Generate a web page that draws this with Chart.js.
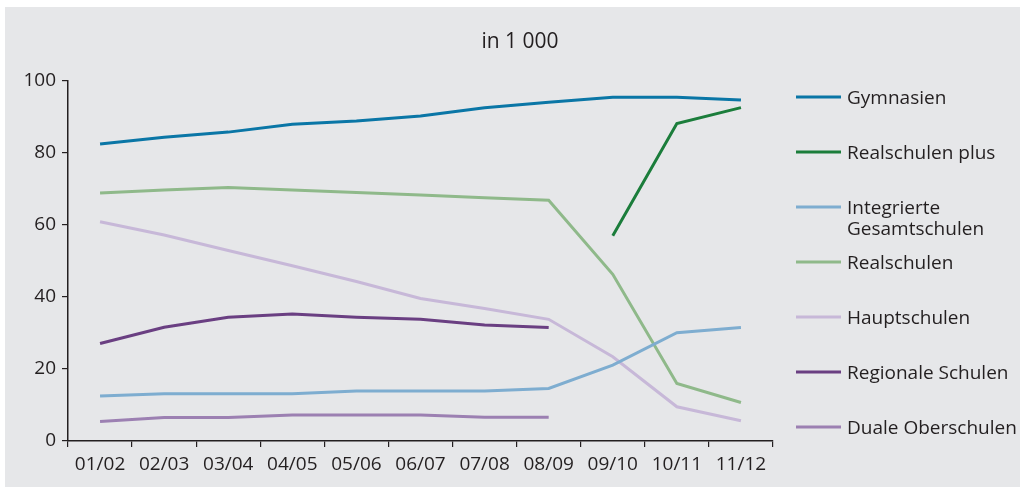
<!DOCTYPE html>
<html lang="de">
<head>
<meta charset="utf-8">
<title>Schülerzahlen nach Schularten</title>
<script src="https://cdn.jsdelivr.net/npm/chart.js@4"></script>
<style>
  html, body { margin: 0; padding: 0; background: #ffffff; }
  #wrap { position: relative; width: 1020px; height: 487px; }
</style>
</head>
<body>
<div id="wrap"><canvas id="chart"></canvas></div>
<script>
// School years (x axis)
const years = ['01/02', '02/03', '03/04', '04/05', '05/06', '06/07', '07/08', '08/09', '09/10', '10/11', '11/12'];

// Pupils in thousands per school type
const gymnasien      = [82.5, 84.4, 85.8, 88.0, 88.9, 90.3, 92.6, 94.1, 95.5, 95.5, 94.7];
const realschulenPlus = [null, null, null, null, null, null, null, null, 57.0, 88.2, 92.6];
const gesamtschulen  = [12.5, 13.1, 13.1, 13.1, 13.9, 13.9, 13.9, 14.6, 21.1, 30.1, 31.5];
const realschulen    = [68.9, 69.7, 70.4, 69.7, 69.0, 68.3, 67.6, 66.9, 46.3, 16.0, 10.7];
const hauptschulen   = [60.9, 57.2, 52.9, 48.7, 44.3, 39.6, 36.8, 33.8, 23.4, 9.5, 5.6];
const regionale      = [27.1, 31.6, 34.4, 35.3, 34.4, 33.8, 32.2, 31.5, null, null, null];
const duale          = [5.4, 6.5, 6.5, 7.2, 7.2, 7.2, 6.6, 6.6, null, null, null];

// Legend names (line breaks where the legend wraps)
const seriesNames = [
  ['Gymnasien'],
  ['Realschulen plus'],
  ['Integrierte', 'Gesamtschulen'],
  ['Realschulen'],
  ['Hauptschulen'],
  ['Regionale Schulen'],
  ['Duale Oberschulen']
];
const seriesValues = [gymnasien, realschulenPlus, gesamtschulen, realschulen, hauptschulen, regionale, duale];
const seriesColors = ['#0a76a6', '#1b7d3b', '#7eadd0', '#8fb98a', '#c7b8d8', '#6a3f82', '#9c80b2'];

// Y axis ticks
const yTicks = [0, 20, 40, 60, 80, 100];
const unitLabel = 'in 1 000';

const FONT = '"Open Sans", "Noto Sans", sans-serif';
const TEXT = '#231f20';

// Grey panel behind the chart
const panelPlugin = {
  id: 'panel',
  beforeDraw(chart) {
    const c = chart.ctx;
    c.save();
    c.fillStyle = '#e6e7e9';
    c.fillRect(5, 7, chart.width - 5, chart.height - 7);
    c.restore();
  }
};

// Unit caption above the plot and legend on the right
const decorPlugin = {
  id: 'decor',
  afterDraw(chart) {
    const c = chart.ctx;
    c.save();
    c.fillStyle = TEXT;
    c.font = '21px ' + FONT;
    c.textAlign = 'center';
    c.textBaseline = 'middle';
    c.fillText(unitLabel, 520, 42);

    c.textAlign = 'left';
    c.font = '19px ' + FONT;
    chart.data.datasets.forEach((ds, i) => {
      const y = 97 + i * 55;
      c.strokeStyle = ds.borderColor;
      c.lineWidth = 3;
      c.beginPath();
      c.moveTo(796, y);
      c.lineTo(841, y);
      c.stroke();
      ds.label.forEach((line, k) => {
        c.fillText(line, 847, y + 2 + k * 21);
      });
    });
    c.restore();
  }
};

new Chart(document.getElementById('chart'), {
  type: 'line',
  data: {
    labels: years,
    datasets: seriesValues.map((vals, i) => ({
      label: seriesNames[i],
      data: vals,
      borderColor: seriesColors[i],
      backgroundColor: seriesColors[i],
      borderWidth: 3,
      pointRadius: 0,
      tension: 0,
      spanGaps: false,
      fill: false
    }))
  },
  options: {
    responsive: true,
    maintainAspectRatio: false,
    animation: false,
    layout: { padding: { left: 0, top: 81, right: 247, bottom: 0 } },
    plugins: {
      legend: { display: false },
      tooltip: { enabled: false },
      title: { display: false }
    },
    scales: {
      x: {
        offset: true,
        afterFit(scale) { scale.height = 46; },
        grid: {
          display: true,
          offset: true,
          drawOnChartArea: false,
          drawTicks: true,
          tickLength: 6,
          color: '#231f20',
          lineWidth: 1.2
        },
        border: { display: true, color: '#231f20', width: 1.5 },
        ticks: {
          color: TEXT,
          font: { family: FONT, size: 19 },
          padding: 6,
          maxRotation: 0,
          autoSkip: false
        }
      },
      y: {
        min: 0,
        max: 100,
        afterFit(scale) { scale.width = 68; },
        afterBuildTicks(scale) { scale.ticks = yTicks.map(v => ({ value: v })); },
        grid: {
          display: true,
          drawOnChartArea: false,
          drawTicks: true,
          tickLength: 6,
          color: '#231f20',
          lineWidth: 1.2
        },
        border: { display: true, color: '#231f20', width: 1.5 },
        ticks: {
          color: TEXT,
          font: { family: FONT, size: 19 },
          padding: 6
        }
      }
    }
  },
  plugins: [panelPlugin, decorPlugin]
});
</script>
</body>
</html>
